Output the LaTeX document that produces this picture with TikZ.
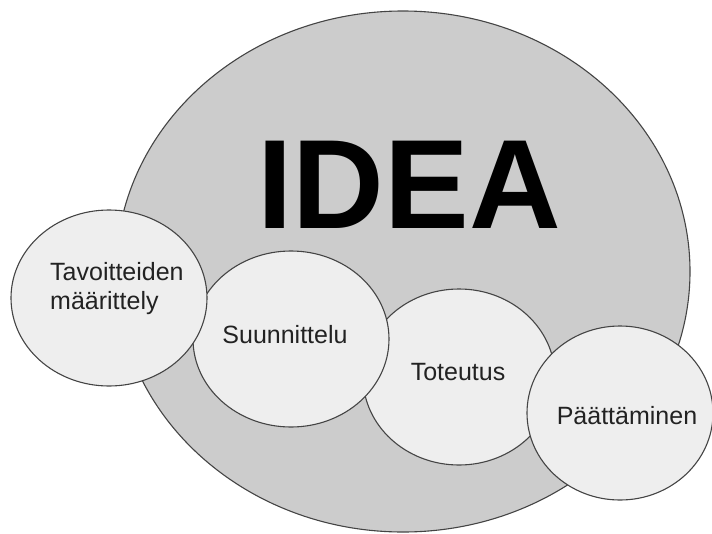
\documentclass[tikz,border=0pt]{standalone}
\usepackage{fontspec}
\setmainfont{Liberation Sans}
\usetikzlibrary{shapes.geometric}
\definecolor{bigfill}{HTML}{CCCCCC}
\definecolor{smallfill}{HTML}{EEEEEE}
\definecolor{edge}{HTML}{444444}
\definecolor{txt}{HTML}{222222}
\begin{document}
\begin{tikzpicture}[x=1pt,y=-1pt,
  bigcircle/.style={ellipse,draw=edge,line width=1.1pt,fill=bigfill,inner sep=0pt},
  phase/.style={ellipse,draw=edge,line width=1.1pt,fill=smallfill,inner sep=0pt},
  lbl/.style={text=txt,inner sep=0pt,font=\fontsize{25}{29.5}\selectfont},
]
\useasboundingbox (0,0) rectangle (712,533);
\node[bigcircle,minimum width=574pt,minimum height=521pt] (idea) at (403,271.5) {};
\node[anchor=base,inner sep=0pt,font=\fontsize{127}{127}\selectfont\bfseries] (ideatext) at (409,228) {IDEA};
\node[phase,minimum width=192pt,minimum height=176pt] (tot) at (459,377) {};
\node[phase,minimum width=196pt,minimum height=176pt] (suu) at (291,339) {};
\node[phase,minimum width=196pt,minimum height=176pt] (tav) at (109,298) {};
\node[phase,minimum width=186pt,minimum height=174pt] (paa) at (620,413) {};
\node[lbl,anchor=base west] (tavt1) at (50,280) {Tavoitteiden};
\node[lbl,anchor=base west] (tavt2) at (50,309) {määrittely};
\node[lbl,anchor=base] (suut) at (285,343) {Suunnittelu};
\node[lbl,anchor=base] (tott) at (458,380) {Toteutus};
\node[lbl,anchor=base] (paat) at (627,424) {Päättäminen};
\end{tikzpicture}
\end{document}
